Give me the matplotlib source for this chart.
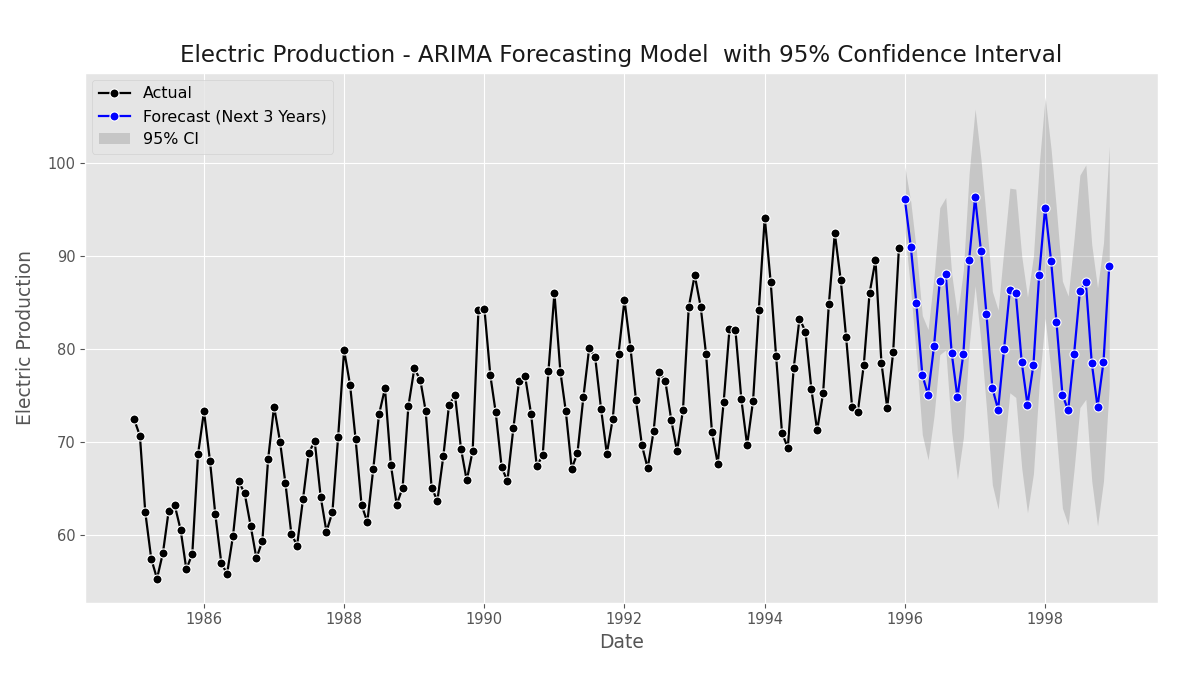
import matplotlib
matplotlib.use("Agg")
import matplotlib.pyplot as plt
import numpy as np
import pandas as pd

plt.style.use("ggplot")

actual_values = [
    72.5052, 70.672, 62.4502, 57.4714, 55.3151, 58.0904, 62.6202, 63.2485, 60.5846, 56.3154, 58.0005, 68.7145,
    73.3057, 67.9869, 62.2221, 57.0329, 55.8137, 59.9005, 65.7655, 64.4816, 61.0005, 57.5322, 59.3417, 68.1354,
    73.8152, 70.062, 65.61, 60.1586, 58.8734, 63.8918, 68.8694, 70.0669, 64.1151, 60.3789, 62.4643, 70.5777,
    79.8703, 76.1622, 70.2928, 63.2384, 61.4065, 67.1097, 72.9816, 75.7655, 67.5152, 63.2832, 65.1078, 73.8631,
    77.9188, 76.6822, 73.3523, 65.1081, 63.6892, 68.4722, 74.0301, 75.0448, 69.3053, 65.8735, 69.0706, 84.1949,
    84.3598, 77.1726, 73.1964, 67.2781, 65.8218, 71.4654, 76.614, 77.1052, 73.061, 67.4365, 68.5665, 77.6839,
    86.0214, 77.5573, 73.365, 67.15, 68.8162, 74.8448, 80.0928, 79.1606, 73.5743, 68.7538, 72.5166, 79.4894,
    85.2855, 80.1643, 74.5275, 69.6441, 67.1784, 71.2078, 77.5081, 76.5374, 72.3541, 69.0286, 73.4992, 84.5159,
    87.9464, 84.5561, 79.4747, 71.0578, 67.6762, 74.3297, 82.1048, 82.0605, 74.6031, 69.681, 74.4292, 84.2284,
    94.1386, 87.1607, 79.2456, 70.9749, 69.3844, 77.9831, 83.277, 81.8872, 75.6826, 71.2661, 75.2458, 84.8147,
    92.4532, 87.4033, 81.2661, 73.8167, 73.2682, 78.3026, 85.9841, 89.5467, 78.5035, 73.7066, 79.6543, 90.8251,
]

forecast_values = [
    96.1, 91.0, 84.9, 77.2, 75.1, 80.3, 87.3, 88.1, 79.6, 74.8, 79.5, 89.6,
    96.3, 90.5, 83.8, 75.8, 73.5, 80.0, 86.3, 86.0, 78.6, 74.0, 78.3, 88.0,
    95.2, 89.5, 82.9, 75.1, 73.4, 79.5, 86.2, 87.2, 78.5, 73.8, 78.6, 88.9,
]

ci_lower = [
    92.6, 86.2, 79.2, 70.8, 68.1, 72.8, 79.4, 79.9, 71.1, 66.0, 70.5, 80.3,
    86.8, 80.7, 73.7, 65.4, 62.8, 69.1, 75.3, 74.8, 67.2, 62.4, 66.6, 76.2,
    83.3, 77.5, 70.8, 62.9, 61.1, 67.1, 73.7, 74.6, 65.8, 61.0, 65.8, 76.0,
]

ci_upper = [
    99.6, 95.8, 90.6, 83.6, 82.1, 87.8, 95.2, 96.3, 88.1, 83.6, 88.5, 98.9,
    105.8, 100.3, 93.9, 86.2, 84.2, 90.9, 97.3, 97.2, 90.0, 85.6, 90.0, 99.8,
    107.1, 101.5, 95.0, 87.3, 85.7, 91.9, 98.7, 99.8, 91.2, 86.6, 91.4, 101.8,
]

actual_dates = pd.date_range("1985-01-01", periods=len(actual_values), freq="MS")
forecast_dates = pd.date_range("1996-01-01", periods=len(forecast_values), freq="MS")

fig = plt.figure(figsize=(12, 6.75), dpi=100)
ax = fig.add_axes([0.071, 0.107, 0.894, 0.785])

ax.plot(actual_dates, actual_values, color="black", marker="o", markersize=6.5,
        markeredgecolor="white", markeredgewidth=0.8, linewidth=1.6, label="Actual")
ax.plot(forecast_dates, forecast_values, color="blue", marker="o", markersize=6.5,
        markeredgecolor="white", markeredgewidth=0.8, linewidth=1.6,
        label="Forecast (Next 3 Years)")
ax.fill_between(forecast_dates, ci_lower, ci_upper, color="gray", alpha=0.3,
                linewidth=0, label="95% CI")

ax.set_title("Electric Production - ARIMA Forecasting Model  with 95% Confidence Interval",
             fontsize=16.6, color="#1a1a1a", pad=8)
ax.set_xlabel("Date", fontsize=13.5, color="#555555")
ax.set_ylabel("Electric Production", fontsize=13.5, color="#555555", labelpad=9)
ax.tick_params(labelsize=10.5)
ax.legend(loc="upper left", fontsize=11.4, facecolor="#e5e5e5", framealpha=0.8,
          borderaxespad=0.45)

fig.savefig("out.png", dpi=100)
